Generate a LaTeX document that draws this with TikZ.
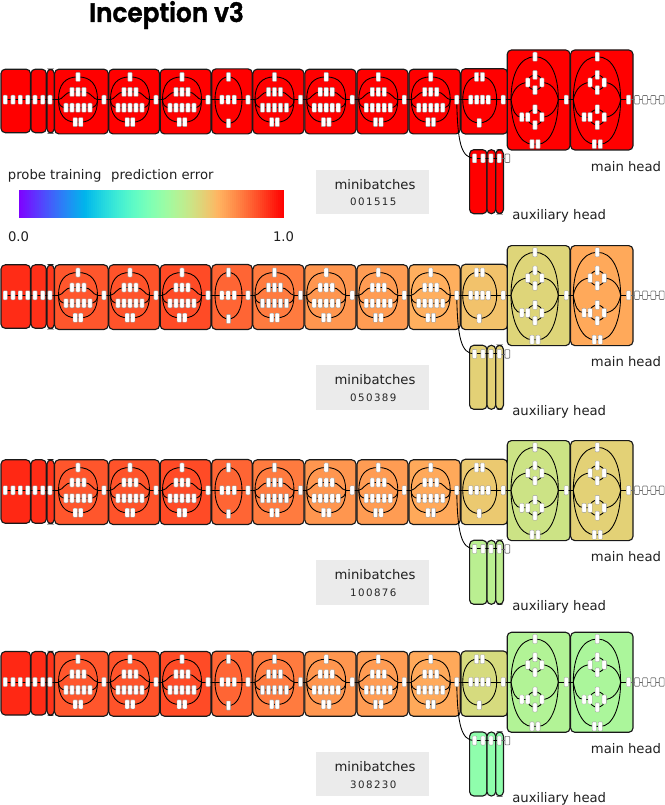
\documentclass[tikz,border=0pt]{standalone}
\usepackage{fontspec}
\setmainfont{DejaVu Sans}
\newfontfamily\titlefont[FakeBold=1.5]{Poppins SemiBold}
\newfontfamily\stepfont[LetterSpace=14]{DejaVu Sans}
\usetikzlibrary{backgrounds}
\pgfdeclarelayer{boxes}
\pgfdeclarelayer{chips}
\pgfsetlayers{boxes,main,chips}

% Rainbow colour map: value in [0,1] to an rgb colour
\newcommand\heat[2]{%
  \pgfmathsetmacro\hr{min(1,abs(2*#2-0.5))}%
  \pgfmathsetmacro\hg{max(0,sin(180*#2))}%
  \pgfmathsetmacro\hb{max(0,cos(90*#2))}%
  \definecolor{#1}{rgb}{\hr,\hg,\hb}}

\tikzset{
  block/.style={draw=black!90,line width=0.85pt,rounded corners=3.2pt,inner sep=0pt,outer sep=0pt},
  chip/.style={draw=black!40,line width=0.25pt,fill=white,rounded corners=0.6pt,inner sep=0pt,outer sep=0pt,minimum width=3.2pt,minimum height=6.8pt},
  ghost/.style={chip,draw=black!55,line width=0.5pt,minimum width=3.6pt,minimum height=6.4pt},
  wire/.style={draw=black,line width=0.65pt},
  ghostwire/.style={draw=black!60,line width=0.5pt},
  caption/.style={inner sep=0pt,anchor=base,text=black!88,font=\fontsize{9.9pt}{12pt}\selectfont},
  stepcount/.style={inner sep=0pt,anchor=base,text=black!85,font=\stepfont\fontsize{7.7pt}{10pt}\selectfont},
  counterbox/.style={fill=black!8,draw=none,inner sep=0pt,outer sep=0pt,minimum width=85pt,minimum height=33.3pt},
}

% Rounded block spanning x0..x1 and top..bot, coloured by entry #1 of the row's values
\newcommand\blockbox[5]{%
  \pgfmathsetmacro\vv{{\vals}[#1]}%
  \heat{blockfill}{\vv}%
  \begin{pgfonlayer}{boxes}
    \node[block,fill=blockfill,minimum width={(#3-#2)*0.75pt},minimum height={(#5-#4)*0.75pt}]
      (r\R-b#1-box) at ({(#2+#3)/2},{(#4+#5)/2}) {};
  \end{pgfonlayer}}

\newcommand\chipat[3]{\node[chip] (#1) at (#2,#3) {};}

% Inception module with four parallel branches
\newcommand\moduleA[4]{%
  \blockbox{#1}{#2}{#3}{-30.5}{34.2}%
  \begin{scope}[shift={(#4,0)},name prefix=r\R-b#1-]
    \coordinate (in) at (-19.5,0);
    \coordinate (out) at (19.5,0);
    \begin{pgfonlayer}{chips}
      \chipat{top}{0}{-22.8}
      \chipat{u1}{-6}{-7.8}\chipat{u2}{0}{-7.8}\chipat{u3}{6}{-7.8}
      \chipat{l1}{-12}{8}\chipat{l2}{-6}{8}\chipat{l3}{0}{8}\chipat{l4}{6}{8}\chipat{l5}{12}{8}
      \chipat{d1}{-2.8}{22.4}\chipat{d2}{2.8}{22.4}
      \chipat{outchip}{26}{0}
    \end{pgfonlayer}
    \draw[wire] (in) .. controls (-19.5,-15) and (-13,-22.8) .. (top.center)
      .. controls (13,-22.8) and (19.5,-15) .. (out);
    \draw[wire] (in) .. controls (-19.5,15) and (-13,22.4) .. (d1.center) -- (d2.center)
      .. controls (13,22.4) and (19.5,15) .. (out);
    \draw[wire] (in) .. controls (-15,-0.5) and (-13,-7.8) .. (u1.center) -- (u3.center)
      .. controls (13,-7.8) and (15,-0.5) .. (out);
    \draw[wire] (in) .. controls (-19.5,5) and (-17,8) .. (l1.center) -- (l5.center)
      .. controls (17,8) and (19.5,5) .. (out);
    \draw[wire] (out) -- (outchip);
  \end{scope}}

% First reduction module
\newcommand\moduleB[4]{%
  \blockbox{#1}{#2}{#3}{-30.8}{34.2}%
  \begin{scope}[shift={(#4,0)},name prefix=r\R-b#1-]
    \coordinate (in) at (-13.5,0);
    \coordinate (out) at (13.5,0);
    \begin{pgfonlayer}{chips}
      \chipat{top}{0}{-22.8}
      \chipat{m1}{-6.6}{0}\chipat{m2}{-0.4}{0}\chipat{m3}{5.8}{0}
      \chipat{bot}{0}{23.6}
      \chipat{outchip}{19.5}{0}
    \end{pgfonlayer}
    \draw[wire] (in) .. controls (-13.5,-14) and (-8,-22.8) .. (top.center)
      .. controls (8,-22.8) and (13.5,-14) .. (out);
    \draw[wire] (in) .. controls (-13.5,14) and (-8,23.6) .. (bot.center)
      .. controls (8,23.6) and (13.5,14) .. (out);
    \draw[wire] (in) -- (outchip);
  \end{scope}}

% Second reduction module
\newcommand\moduleD[4]{%
  \blockbox{#1}{#2}{#3}{-31}{34.3}%
  \begin{scope}[shift={(#4,0)},name prefix=r\R-b#1-]
    \coordinate (in) at (-16.5,0);
    \coordinate (out) at (17.5,0);
    \begin{pgfonlayer}{chips}
      \chipat{t1}{-2.6}{-22.8}\chipat{t2}{3.2}{-22.8}
      \chipat{m1}{-8.5}{0}\chipat{m2}{-2.5}{0}\chipat{m3}{3.2}{0}\chipat{m4}{9}{0}
      \chipat{bot}{0}{23.2}
      \chipat{outchip}{24}{0}
    \end{pgfonlayer}
    \draw[wire] (in) .. controls (-16.5,-14) and (-10,-22.8) .. (t1.center) -- (t2.center)
      .. controls (11,-22.8) and (17.5,-14) .. (out);
    \draw[wire] (in) .. controls (-16.5,14) and (-10,23.2) .. (bot.center)
      .. controls (10,23.2) and (17.5,14) .. (out);
    \draw[wire] (in) -- (outchip);
  \end{scope}}

% Last modules of the main path, with the two small rings of chips
\newcommand\moduleC[4]{%
  \blockbox{#1}{#2}{#3}{-49.7}{50.3}%
  \begin{scope}[shift={(#4,0)},name prefix=r\R-b#1-]
    \coordinate (in) at (-24,0);
    \coordinate (out) at (23.3,0);
    \coordinate (uring) at (0,-17.2);
    \coordinate (lring) at (0,17.5);
    \begin{pgfonlayer}{chips}
      \chipat{top}{0}{-43}
      \chipat{uN}{0}{-24.8}\chipat{uW}{-7.2}{-17.2}\chipat{uE}{6.9}{-17.2}\chipat{uS}{0}{-9.6}
      \chipat{lN}{0}{9.6}\chipat{lX}{-13.2}{17.5}\chipat{lW}{-7.2}{17.5}\chipat{lE}{6.9}{17.5}\chipat{lS}{0}{25.4}
      \chipat{d1}{-3}{44.4}\chipat{d2}{3}{44.4}
      \chipat{outchip}{31.3}{0}
    \end{pgfonlayer}
    \draw[wire] (in) .. controls (-24,-26) and (-15,-43) .. (top.center)
      .. controls (15,-43) and (23.3,-26) .. (out);
    \draw[wire] (in) .. controls (-24,26) and (-15,44.4) .. (d1.center) -- (d2.center)
      .. controls (15,44.4) and (23.3,26) .. (out);
    \draw[wire] (uring) circle[radius=7.4];
    \draw[wire] (lring) circle[radius=7.7];
    \draw[wire] (in) .. controls (-22,-11) and (-15,-17.2) .. (uW.center);
    \draw[wire] (uE.center) .. controls (15,-17.2) and (21.5,-11) .. (out);
    \draw[wire] (in) .. controls (-22,11) and (-20,17.5) .. (lX.center) -- (lW.center);
    \draw[wire] (lE.center) .. controls (15,17.5) and (21.5,11) .. (out);
    \draw[wire] (out) -- (outchip);
  \end{scope}}

% One complete network: #1 index, #2 axis height, #3 block values,
% #4 counter text, #5 baseline offset of the auxiliary caption
\newcommand\network[5]{%
  \def\R{#1}\def\vals{#3}%
  \begin{scope}[shift={(0,#2)}]
    \blockbox{0}{1}{30.5}{-30.5}{33}%
    \blockbox{1}{31}{46.3}{-30.5}{33}%
    \blockbox{2}{47}{54.2}{-30.5}{33.4}%
    \begin{pgfonlayer}{chips}
      \chipat{r#1-s1}{5.3}{0}\chipat{r#1-s2}{13}{0}\chipat{r#1-s3}{20.3}{0}\chipat{r#1-s4}{27.7}{0}
      \chipat{r#1-s5}{35}{0}\chipat{r#1-s6}{42.7}{0}\chipat{r#1-s7}{50}{0}
      \node[ghost] (r#1-o1) at (637,0) {};
      \node[ghost] (r#1-o2) at (645,0) {};
      \node[ghost] (r#1-o3) at (653.3,0) {};
      \node[ghost] (r#1-o4) at (661.7,0) {};
    \end{pgfonlayer}
    \moduleA{3}{54.6}{108.2}{78}
    \moduleA{4}{108.8}{159.5}{130}
    \moduleA{5}{160.2}{211}{182}
    \moduleB{6}{211.7}{252.3}{228.5}
    \moduleA{7}{252.9}{304}{274.5}
    \moduleA{8}{304.9}{356}{326.2}
    \moduleA{9}{357}{408}{378.3}
    \moduleA{10}{409}{460.2}{430.7}
    \moduleD{11}{461}{507.6}{479.2}
    \moduleC{12}{507.2}{570}{535}
    \moduleC{13}{570.6}{633}{597.3}
    \draw[wire] (r#1-s1) -- (r#1-s2) -- (r#1-s3) -- (r#1-s4) -- (r#1-s5) -- (r#1-s6) -- (r#1-s7) -- (r#1-b3-in);
    \draw[wire] (r#1-b3-outchip) -- (r#1-b4-in);
    \draw[wire] (r#1-b4-outchip) -- (r#1-b5-in);
    \draw[wire] (r#1-b5-outchip) -- (r#1-b6-in);
    \draw[wire] (r#1-b6-outchip) -- (r#1-b7-in);
    \draw[wire] (r#1-b7-outchip) -- (r#1-b8-in);
    \draw[wire] (r#1-b8-outchip) -- (r#1-b9-in);
    \draw[wire] (r#1-b9-outchip) -- (r#1-b10-in);
    \draw[wire] (r#1-b10-outchip) -- (r#1-b11-in);
    \draw[wire] (r#1-b11-outchip) -- (r#1-b12-in);
    \draw[wire] (r#1-b12-outchip) -- (r#1-b13-in);
    \draw[ghostwire] (r#1-b13-outchip) -- (r#1-o1) -- (r#1-o2) -- (r#1-o3) -- (r#1-o4);
    % auxiliary classifier
    \blockbox{14}{469.6}{487}{50}{114}%
    \blockbox{15}{487}{495.7}{50}{114}%
    \blockbox{16}{495.7}{503.5}{50}{114}%
    \begin{pgfonlayer}{chips}
      \chipat{r#1-a1}{474.6}{58.6}\chipat{r#1-a2}{483}{58.6}\chipat{r#1-a3}{491}{58.6}\chipat{r#1-a4}{499.3}{58.6}
      \node[ghost] (r#1-a5) at (507.4,58.6) {};
    \end{pgfonlayer}
    \draw[wire] (r#1-a1) -- (r#1-a2) -- (r#1-a3) -- (r#1-a4);
    \draw[ghostwire] (r#1-a4) -- (r#1-a5);
    \draw[wire] (r#1-b10-outchip.center) .. controls (457.5,42) and (461,58.6) .. (r#1-a1.center);
    % captions
    \node[caption] (r#1-main) at (626,71.4) {main head};
    \node[caption] (r#1-aux) at (559.2,#5) {auxiliary head};
    \begin{pgfonlayer}{boxes}
      \node[counterbox] (r#1-cbox) at (372.4,92.2) {};
    \end{pgfonlayer}
    \node[caption] (r#1-mini) at (375,89.4) {minibatches};
    \node[stepcount] (r#1-count) at (373.3,106) {#4};
  \end{scope}}

\begin{document}
\begin{tikzpicture}[x=0.75pt,y=-0.75pt]
  \useasboundingbox (0,0) rectangle (664,805);
  \node[inner sep=0pt,anchor=base,xscale=0.93] (title) at (166.5,22) {\titlefont\fontsize{20pt}{24pt}\selectfont Inception v3};

  % Colour scale of the prediction error
  \foreach \i in {0,...,131}{
    \pgfmathsetmacro\vv{(\i+0.5)/132}
    \heat{barcol}{\vv}
    \pgfmathsetmacro\xa{18.7+\i/132*265.3}
    \pgfmathsetmacro\xb{\xa+2.01+(\i<131?0.3:0)}
    \fill[barcol] (\xa,190) rectangle (\xb,218.3);
  }
  \node[caption,anchor=base west] (bartitle) at (7.7,180) {probe training\hspace{0.42em} prediction error};
  \node[caption] (barmin) at (18.5,242) {0.0};
  \node[caption] (barmax) at (283.5,242) {1.0};

  \network{1}{99.7}{1,1,1,1,1,1,1,1,1,1,1,1,1,1,1,1,1}{001515}{119.4}
  \network{2}{295.3}{.945,.94,.93,.89,.895,.905,.87,.84,.8,.79,.76,.725,.685,.77,.695,.695,.695}{050389}{120.4}
  \network{3}{490.3}{.95,.945,.935,.89,.895,.905,.87,.84,.8,.79,.77,.71,.65,.695,.615,.615,.62}{100876}{119.8}
  \network{4}{682}{.95,.945,.935,.89,.895,.905,.87,.84,.8,.79,.77,.67,.6,.585,.53,.53,.53}{308230}{120.4}
\end{tikzpicture}
\end{document}
